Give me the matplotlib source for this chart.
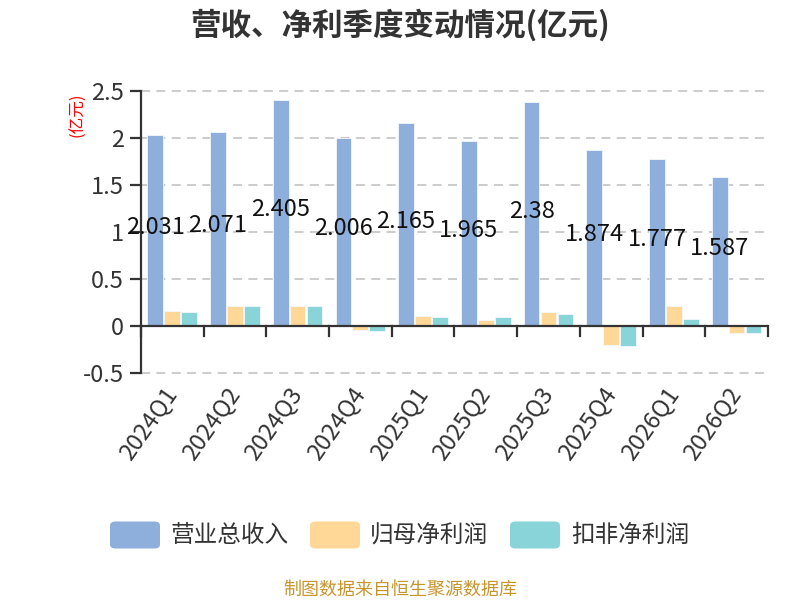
import matplotlib
matplotlib.use("Agg")
import matplotlib.pyplot as plt
import numpy as np
from matplotlib.patches import FancyBboxPatch

plt.rcParams["font.family"] = ["Noto Sans CJK SC", "DejaVu Sans"]

quarters = ["2024Q1", "2024Q2", "2024Q3", "2024Q4", "2025Q1",
            "2025Q2", "2025Q3", "2025Q4", "2026Q1", "2026Q2"]
revenue = [2.031, 2.071, 2.405, 2.006, 2.165, 1.965, 2.38, 1.874, 1.777, 1.587]
net_profit = [0.167, 0.21, 0.22, -0.045, 0.11, 0.07, 0.15, -0.20, 0.22, -0.07]
net_profit_deducted = [0.155, 0.21, 0.22, -0.05, 0.10, 0.10, 0.125, -0.21, 0.08, -0.075]
yticks = [-0.5, 0, 0.5, 1, 1.5, 2, 2.5]
ytick_labels = ["-0.5", "0", "0.5", "1", "1.5", "2", "2.5"]

series_names = ["营业总收入", "归母净利润", "扣非净利润"]
colors = ["#8eaedb", "#ffd898", "#88d4d8"]

fig = plt.figure(figsize=(8, 6), dpi=100)
ax = fig.add_axes([0.176, 0.378, 0.784, 0.47])

x = np.arange(len(quarters))
w = 0.25
offsets = [-0.27, 0.0, 0.27]
for vals, off, c in zip([revenue, net_profit, net_profit_deducted], offsets, colors):
    ax.bar(x + off, vals, width=w, color=c, edgecolor="#f4f7fb", linewidth=0.6, zorder=3)

# value labels sit around the middle of the revenue bar
for xi, v in zip(x, revenue):
    ax.text(xi + offsets[0], v / 2 + 0.035, f"{v:g}", ha="center", va="center",
            fontsize=17, color="#111111", zorder=5)

ax.set_xlim(-0.5, len(quarters) - 0.5)
ax.set_ylim(-0.5, 2.5)
ax.set_yticks(yticks)
ax.set_yticklabels(ytick_labels)
for yv in yticks:
    ax.axhline(yv, linestyle=(0, (5, 3.5)), color="#c8c8c8", linewidth=1.3,
               zorder=0, clip_on=False)

for s in ["top", "right", "bottom"]:
    ax.spines[s].set_visible(False)
ax.spines["left"].set_color("#333333")
ax.spines["left"].set_linewidth(1.6)
ax.axhline(0, color="#333333", linewidth=1.6, zorder=4)

ax.tick_params(axis="y", length=8, width=1.6, color="#333333", labelsize=17,
               labelcolor="#333333", pad=4)
ax.set_xticks(x)
ax.set_xticklabels(quarters, rotation=55, ha="right", va="center",
                   rotation_mode="anchor", fontsize=17, color="#333333")
ax.tick_params(axis="x", length=0, pad=12)
# boundary ticks hanging from the zero line
for b in np.arange(-0.5, len(quarters), 1.0):
    ax.plot([b, b], [0, -0.1], color="#333333", linewidth=1.6, clip_on=False, zorder=4)

fig.text(0.0975, 0.808, "(亿元)", color="red", fontsize=12, rotation=90,
         ha="center", va="center")

fig.text(0.5, 0.958, "营收、净利季度变动情况(亿元)", ha="center", va="center",
         fontsize=22, fontweight="bold", color="#333333")

# legend
leg_y = 1 - 535 / 600
leg_items = [(110, 171), (310, 370), (510, 571)]
for (px, tx), name, c in zip(leg_items, series_names, colors):
    fig.patches.append(FancyBboxPatch((px / 800, leg_y - 13.5 / 600), 50 / 800, 27 / 600,
                                      boxstyle="round,pad=0,rounding_size=0.007",
                                      transform=fig.transFigure, facecolor=c,
                                      edgecolor="none"))
    fig.text(tx / 800, leg_y, name, ha="left", va="center", fontsize=17, color="#333333")

fig.text(0.5, 1 - 590 / 600, "制图数据来自恒生聚源数据库", ha="center", va="center",
         fontsize=13, color="#c8952c")

fig.savefig("out.png", dpi=100)
